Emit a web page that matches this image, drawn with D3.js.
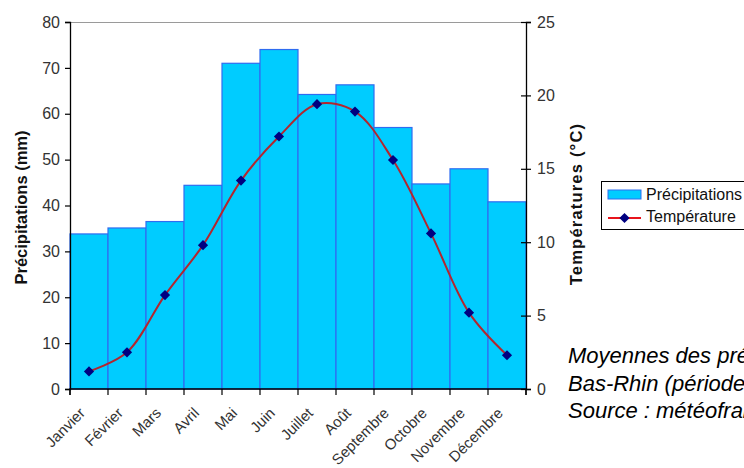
<!DOCTYPE html>
<html>
<head>
<meta charset="utf-8">
<script src="https://cdn.jsdelivr.net/npm/d3@7/dist/d3.min.js"></script>
<style>
  html, body { margin: 0; padding: 0; background: #fff; overflow: hidden; }
  svg { display: block; font-family: "Liberation Sans", Arial, sans-serif; }
</style>
</head>
<body>
<svg id="chart" width="744" height="468"></svg>
<script>
const months = ["Janvier", "Février", "Mars", "Avril", "Mai", "Juin", "Juillet", "Août", "Septembre", "Octobre", "Novembre", "Décembre"];
const precipitations = [33.8, 35.1, 36.5, 44.4, 71.0, 74.0, 64.2, 66.3, 57.0, 44.7, 48.0, 40.8];
const temperatures = [1.2, 2.5, 6.4, 9.8, 14.2, 17.2, 19.4, 18.9, 15.6, 10.6, 5.2, 2.3];
const precipTicks = [0, 10, 20, 30, 40, 50, 60, 70, 80];
const tempTicks = [0, 5, 10, 15, 20, 25];
const legendLabels = ["Précipitations", "Température"];
const noteLines = ["Moyennes des précipitations et des températures", "Bas-Rhin (période 1971-2000)", "Source : météofrance"];

const svg = d3.select("#chart");
const pLeft = 70, pRight = 526, pTop = 22, pBottom = 389;

const x = d3.scaleBand().domain(months).range([pLeft, pRight]).padding(0);
const yP = d3.scaleLinear().domain([0, 80]).range([pBottom, pTop]);
const yT = d3.scaleLinear().domain([0, 25]).range([pBottom, pTop]);

// top border of plot area
svg.append("line")
  .attr("x1", pLeft).attr("x2", pRight)
  .attr("y1", yP(80) + 0.5).attr("y2", yP(80) + 0.5)
  .attr("stroke", "#9a9a9a").attr("stroke-width", 1);

// bars
svg.append("g").selectAll("rect")
  .data(precipitations)
  .join("rect")
  .attr("x", (d, i) => x(months[i]))
  .attr("y", d => yP(d))
  .attr("width", x.bandwidth())
  .attr("height", d => yP(0) - yP(d))
  .attr("fill", "#00ccff")
  .attr("stroke", "#2f6cf0")
  .attr("stroke-width", 1.2);

// line
const line = d3.line()
  .x((d, i) => x(months[i]) + x.bandwidth() / 2)
  .y(d => yT(d))
  .curve(d3.curveCatmullRom.alpha(0.5));

svg.append("path")
  .datum(temperatures)
  .attr("d", line)
  .attr("fill", "none")
  .attr("stroke", "#b3262e")
  .attr("stroke-width", 2);

const diamond = d3.symbol().type(d3.symbolSquare).size(52);
svg.append("g").selectAll("path")
  .data(temperatures)
  .join("path")
  .attr("d", diamond)
  .attr("transform", (d, i) => `translate(${x(months[i]) + x.bandwidth() / 2},${yT(d)}) rotate(45)`)
  .attr("fill", "#000080");

// axes
const fontSize = "16px";
const labelSize = "15px";
const textColor = "#333";

const axL = svg.append("g")
  .attr("transform", `translate(${pLeft},0)`)
  .call(d3.axisLeft(yP).tickValues(precipTicks).tickSize(5).tickPadding(5).tickFormat(d3.format("d")));
const axR = svg.append("g")
  .attr("transform", `translate(${pRight},0)`)
  .call(d3.axisRight(yT).tickValues(tempTicks).tickSize(5).tickPadding(6).tickFormat(d3.format("d")));
const axB = svg.append("g")
  .attr("transform", `translate(0,${pBottom})`)
  .call(d3.axisBottom(x).tickSize(6).tickFormat(""));

[axL, axR, axB].forEach(g => {
  g.select(".domain").attr("stroke", "#000").attr("stroke-width", 1.3);
  g.selectAll(".tick line").attr("stroke", "#000").attr("stroke-width", 1.2);
  g.selectAll("text").attr("font-size", fontSize).attr("fill", textColor)
    .attr("font-family", "Liberation Sans, Arial, sans-serif");
});
axR.selectAll(".tick line").attr("x1", -5);
axB.select(".domain").attr("d", `M${pLeft},6V0H${pRight}V6`);

// bottom ticks at band boundaries
axB.selectAll(".tick").remove();
const edges = months.map(m => x(m)).concat([pRight]);
axB.selectAll(".edge")
  .data(edges)
  .join("line")
  .attr("class", "edge")
  .attr("x1", d => d).attr("x2", d => d)
  .attr("y1", 0).attr("y2", 6)
  .attr("stroke", "#000").attr("stroke-width", 1.2);

// month labels
svg.append("g").selectAll("text")
  .data(months)
  .join("text")
  .attr("transform", d => `translate(${x(d) + x.bandwidth() / 2 - 3},${pBottom + 25}) rotate(-45)`)
  .attr("text-anchor", "end")
  .attr("font-size", labelSize)
  .attr("fill", textColor)
  .text(d => d);

// axis titles
svg.append("text")
  .attr("transform", `translate(27,${(130 + 285) / 2}) rotate(-90)`)
  .attr("text-anchor", "middle")
  .attr("font-size", "16.5px")
  .attr("font-weight", "bold")
  .attr("fill", "#111")
  .text("Précipitations (mm)");

svg.append("text")
  .attr("transform", `translate(582,${(123 + 285) / 2}) rotate(-90)`)
  .attr("text-anchor", "middle")
  .attr("font-size", "16.5px")
  .attr("font-weight", "bold")
  .attr("letter-spacing", "1.2px")
  .attr("fill", "#111")
  .text("Températures (°C)");

// legend
const lg = svg.append("g").attr("transform", "translate(601,181)");
lg.append("rect")
  .attr("x", 0.5).attr("y", 0.5).attr("width", 200).attr("height", 48)
  .attr("fill", "#fff").attr("stroke", "#000").attr("stroke-width", 1);
lg.append("rect")
  .attr("x", 7).attr("y", 9).attr("width", 33).attr("height", 9)
  .attr("fill", "#00ccff").attr("stroke", "#2f6cf0").attr("stroke-width", 1);
lg.append("line")
  .attr("x1", 7).attr("x2", 40).attr("y1", 37).attr("y2", 37)
  .attr("stroke", "#e8141c").attr("stroke-width", 2);
lg.append("path")
  .attr("d", diamond)
  .attr("transform", "translate(23.5,37) rotate(45)")
  .attr("fill", "#000080");
lg.selectAll("text.lab")
  .data(legendLabels)
  .join("text")
  .attr("class", "lab")
  .attr("x", 45)
  .attr("y", (d, i) => 19 + i * 22)
  .attr("font-size", fontSize)
  .attr("fill", "#111")
  .text(d => d);

// note
svg.append("g").selectAll("text")
  .data(noteLines)
  .join("text")
  .attr("x", 568)
  .attr("y", (d, i) => 363 + i * 27.5)
  .attr("font-size", "22px")
  .attr("font-style", "italic")
  .attr("fill", "#000")
  .text(d => d);
</script>
</body>
</html>
